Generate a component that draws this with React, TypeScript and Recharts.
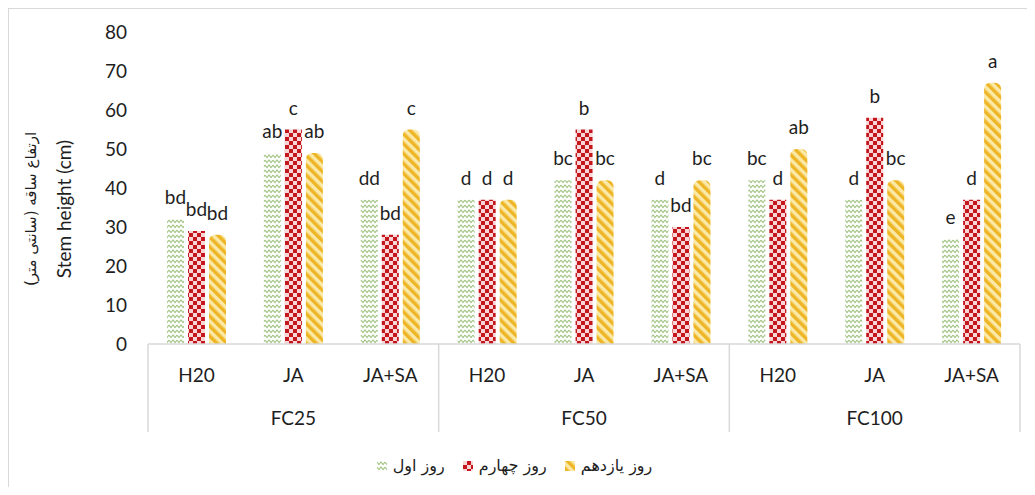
import React from 'react';
import { BarChart, Bar, XAxis, YAxis, LabelList, Legend, Label } from 'recharts';

// categories
const groups = ['FC25', 'FC50', 'FC100'];
const treatments = ['H20', 'JA', 'JA+SA'];

// series values (stem height, cm), in order FC25 H20, JA, JA+SA, FC50 ..., FC100 ...
const day1 = [32, 49, 37, 37, 42, 37, 42, 37, 27];
const day4 = [29, 55, 28, 37, 55, 30, 37, 58, 37];
const day11 = [28, 49, 55, 37, 42, 42, 50, 42, 67];

// significance letters above each bar
const day1Letters = ['bd', 'ab', 'dd', 'd', 'bc', 'd', 'bc', 'd', 'e'];
const day4Letters = ['bd', 'c', 'bd', 'd', 'b', 'bd', 'd', 'b', 'd'];
const day11Letters = ['bd', 'ab', 'c', 'd', 'bc', 'bc', 'ab', 'bc', 'a'];

const seriesNames = ['روز اول', 'روز چهارم', 'روز یازدهم'];
const yTicks = [0, 10, 20, 30, 40, 50, 60, 70, 80];

const data = groups.flatMap((g, gi) =>
  treatments.map((t, ti) => {
    const i = gi * treatments.length + ti;
    return {
      key: `${g}-${t}`,
      sub: t,
      group: g,
      d1: day1[i],
      d4: day4[i],
      d11: day11[i],
      l1: day1Letters[i],
      l4: day4Letters[i],
      l11: day11Letters[i],
    };
  })
);

const CHART_W = 1018;
const CHART_H = 478;
const MARGIN = { top: 23, right: 7, left: 0, bottom: 0 };
const Y_W = 139;
const PLOT_W = CHART_W - Y_W - MARGIN.right - MARGIN.left;
const BAND = PLOT_W / data.length;

const FONT = 'Lato, "DejaVu Sans", sans-serif';
const TEXT = '#1e1e1e';
const AXIS = '#d9d9d9';

const fills = ['url(#pGreen)', 'url(#pRed)', 'url(#pYellow)'];

const Patterns = () => (
  <defs>
    <pattern id="pGreen" patternUnits="userSpaceOnUse" width="8" height="5">
      <rect width="8" height="5" fill="#ffffff" />
      <path d="M0 1 L2 3.5 L4 1 L6 3.5 L8 1" fill="none" stroke="#a3c585" strokeWidth="1.1" />
    </pattern>
    <pattern id="pRed" patternUnits="userSpaceOnUse" width="8" height="8">
      <rect width="8" height="8" fill="#c4161c" />
      <rect x="0" y="0" width="4" height="4" fill="#f8d6d6" />
      <rect x="4" y="4" width="4" height="4" fill="#f8d6d6" />
    </pattern>
    <pattern id="pYellow" patternUnits="userSpaceOnUse" width="7" height="7" patternTransform="rotate(-45)">
      <rect width="7" height="7" fill="#fbe9a8" />
      <rect width="3.5" height="7" fill="#eeb526" />
    </pattern>
  </defs>
);

const XTick = (props: any) => {
  const { x, y, index, payload } = props;
  const row = data[index];
  const n = treatments.length;
  return (
    <g>
      <text x={x} y={y + 38} textAnchor="middle" fontSize={19} fill={TEXT} fontFamily={FONT}>
        {payload.value}
      </text>
      {index % n === 1 && (
        <text x={x} y={y + 81} textAnchor="middle" fontSize={19} fill={TEXT} fontFamily={FONT}>
          {row.group}
        </text>
      )}
      {index % n === 0 && (
        <line x1={x - BAND / 2} x2={x - BAND / 2} y1={y} y2={y + 88} stroke={AXIS} strokeWidth={1.5} />
      )}
      {index === data.length - 1 && (
        <line x1={x + BAND / 2} x2={x + BAND / 2} y1={y} y2={y + 88} stroke={AXIS} strokeWidth={1.5} />
      )}
    </g>
  );
};

const YLabel = (props: any) => {
  const { viewBox } = props;
  const cy = viewBox.y + viewBox.height / 2 + 21;
  const xEn = viewBox.x + 54;
  const xFa = viewBox.x + 22;
  return (
    <g>
      <text
        x={xEn}
        y={cy}
        transform={`rotate(-90 ${xEn} ${cy})`}
        textAnchor="middle"
        dominantBaseline="central"
        fontSize={19}
        fill={TEXT}
        fontFamily={FONT}
      >
        Stem height (cm)
      </text>
      <text
        x={xFa}
        y={cy}
        transform={`rotate(-90 ${xFa} ${cy})`}
        textAnchor="middle"
        dominantBaseline="central"
        fontSize={15}
        fill={TEXT}
        fontFamily={'"DejaVu Sans", sans-serif'}
      >
        ارتفاع ساقه (سانتی متر)
      </text>
    </g>
  );
};

const LegendContent = () => (
  <div
    style={{
      height: 43,
      display: 'flex',
      justifyContent: 'center',
      alignItems: 'center',
      gap: 18,
      fontFamily: '"DejaVu Sans", sans-serif',
      fontSize: 16,
      color: TEXT,
    }}
  >
    {seriesNames.map((name, i) => (
      <div key={name} style={{ display: 'flex', alignItems: 'center', gap: 6 }}>
        <svg width={10} height={10}>
          <rect width={10} height={10} fill={fills[i]} />
        </svg>
        <span dir="rtl">{name}</span>
      </div>
    ))}
  </div>
);

const labelStyle = { fontSize: 19, fill: TEXT, fontFamily: FONT };

export default function App() {
  return (
    <div
      style={{
        width: CHART_W,
        height: CHART_H,
        borderTop: `1px solid ${AXIS}`,
        borderLeft: `1px solid ${AXIS}`,
        background: '#fff',
      }}
    >
      <BarChart
        width={CHART_W}
        height={CHART_H}
        data={data}
        margin={MARGIN}
        barSize={17}
        barGap={4}
      >
        <Patterns />
        <XAxis
          dataKey="sub"
          interval={0}
          tickLine={false}
          tickSize={0}
          tickMargin={0}
          height={100}
          axisLine={{ stroke: AXIS, strokeWidth: 1.5 }}
          tick={<XTick />}
        />
        <YAxis
          width={Y_W}
          domain={[0, 80]}
          ticks={yTicks}
          interval={0}
          axisLine={false}
          tickLine={false}
          tickMargin={15}
          tick={{ fontSize: 19, fill: TEXT, fontFamily: FONT }}
        >
          <Label content={<YLabel />} />
        </YAxis>
        <Legend verticalAlign="bottom" align="center" height={43} content={<LegendContent />} />
        <Bar dataKey="d1" name={seriesNames[0]} fill={fills[0]} isAnimationActive={false}>
          <LabelList dataKey="l1" position="top" offset={15} style={labelStyle} />
        </Bar>
        <Bar dataKey="d4" name={seriesNames[1]} fill={fills[1]} isAnimationActive={false}>
          <LabelList dataKey="l4" position="top" offset={15} style={labelStyle} />
        </Bar>
        <Bar dataKey="d11" name={seriesNames[2]} fill={fills[2]} radius={[6, 6, 0, 0]} isAnimationActive={false}>
          <LabelList dataKey="l11" position="top" offset={15} style={labelStyle} />
        </Bar>
      </BarChart>
    </div>
  );
}
